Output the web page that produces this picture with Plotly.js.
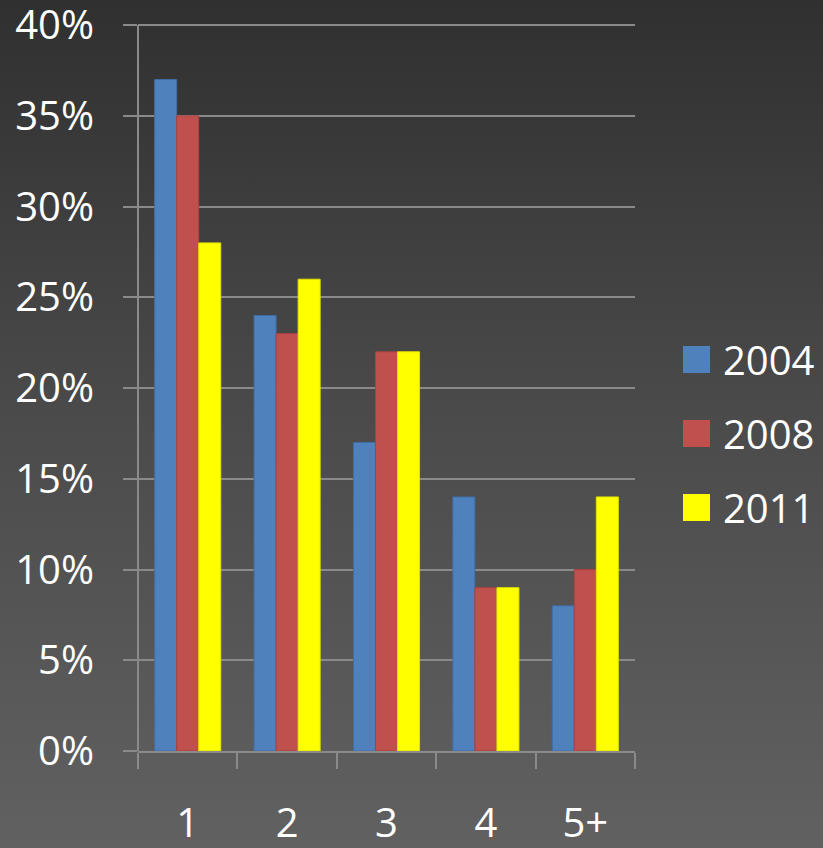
<!DOCTYPE html>
<html>
<head>
<meta charset="utf-8">
<script src="https://cdn.plot.ly/plotly-3.0.1.min.js"></script>
<style>
  html, body { margin: 0; padding: 0; }
  body { width: 823px; height: 848px; background: linear-gradient(to bottom, #303030 0%, #4b4b4b 50%, #616161 100%); }
  #chart { width: 823px; height: 848px; }
</style>
</head>
<body>
<div id="chart"></div>
<script>
const categories = ['1', '2', '3', '4', '5+'];
const seriesNames = ['2004', '2008', '2011'];
const values2004 = [37, 24, 17, 14, 8];
const values2008 = [35, 23, 22, 9, 10];
const values2011 = [28, 26, 22, 9, 14];
const seriesColors = ['#4F81BD', '#C0504D', '#FFFF00'];
const seriesLines = ['#3d6ea8', '#a8423f', '#e0e000'];
const allValues = [values2004, values2008, values2011];
const yTickVals = [0, 5, 10, 15, 20, 25, 30, 35, 40];
const yTickText = ['0%', '5%', '10%', '15%', '20%', '25%', '30%', '35%', '40%'];
const yMax = 40;

const traces = allValues.map((vals, i) => ({
  type: 'bar',
  name: seriesNames[i],
  x: categories,
  y: vals,
  marker: { color: seriesColors[i], line: { color: seriesLines[i], width: 1 } },
  hoverinfo: 'x+y+name'
}));

// plot area in pixels
const L = 138, R = 635, T = 7, B = 751;
const px = x => (x - L) / (R - L);
const py = y => (B - y) / (B - T);

const legendY = [359.5, 433.5, 507.5];
const shapes = [
  // y axis line, from 0 to the top tick
  { type: 'line', xref: 'paper', yref: 'y', x0: 0, x1: 0, y0: 0, y1: yMax,
    line: { color: '#8a8a8a', width: 2 }, layer: 'above' }
];
const annotations = [];
seriesNames.forEach((n, i) => {
  shapes.push({
    type: 'rect', xref: 'paper', yref: 'paper',
    x0: px(683), x1: px(710), y0: py(legendY[i] + 13.5), y1: py(legendY[i] - 13.5),
    fillcolor: seriesColors[i], line: { width: 0 }
  });
  annotations.push({
    xref: 'paper', yref: 'paper', x: px(721), y: py(legendY[i]),
    xanchor: 'left', yanchor: 'middle', showarrow: false,
    text: n, font: { family: 'Open Sans, sans-serif', size: 40, color: '#ffffff' }
  });
});

const layout = {
  width: 823, height: 848,
  margin: { l: L, r: 823 - R, t: T, b: 848 - B, pad: 0 },
  paper_bgcolor: 'rgba(0,0,0,0)',
  plot_bgcolor: 'rgba(0,0,0,0)',
  barmode: 'group',
  bargap: 0.335,
  bargroupgap: 0,
  showlegend: false,
  font: { family: 'Open Sans, sans-serif', size: 40, color: '#ffffff' },
  xaxis: {
    type: 'category',
    tickson: 'boundaries',
    ticks: 'outside', ticklen: 16, tickwidth: 2, tickcolor: '#8a8a8a',
    showline: true, linecolor: '#8a8a8a', linewidth: 2,
    showgrid: false, zeroline: false,
    ticklabelstandoff: 36,
    tickfont: { family: 'Open Sans, sans-serif', size: 40, color: '#ffffff' }
  },
  yaxis: {
    range: [0, 41],
    tickmode: 'array', tickvals: yTickVals, ticktext: yTickText,
    ticks: 'outside', ticklen: 14, tickwidth: 2, tickcolor: '#8a8a8a',
    showline: false,
    showgrid: true, gridcolor: '#8a8a8a', gridwidth: 2,
    zeroline: false,
    ticklabelstandoff: 21,
    ticklabeloverflow: 'allow',
    tickfont: { family: 'Open Sans, sans-serif', size: 40, color: '#ffffff' }
  },
  shapes: shapes,
  annotations: annotations
};

Plotly.newPlot('chart', traces, layout, { displayModeBar: false, staticPlot: true });
</script>
</body>
</html>
